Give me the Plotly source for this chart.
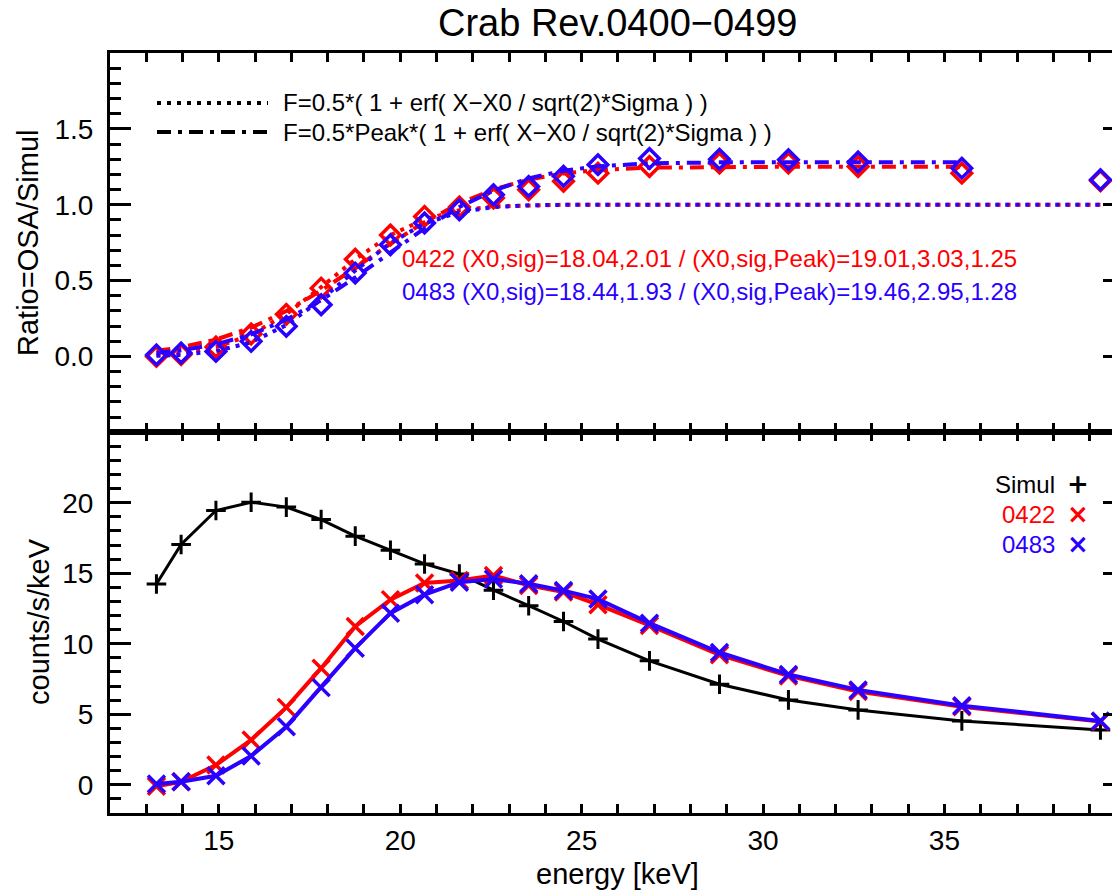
import math
import plotly.graph_objects as go

# ---------------- data ----------------
energy = [13.28, 13.96, 14.92, 15.89, 16.86, 17.82, 18.76, 19.73, 20.67, 21.63,
          22.57, 23.54, 24.50, 25.45, 26.87, 28.80, 30.70, 32.62, 35.48, 39.30]

simul = [14.24, 17.04, 19.45, 20.04, 19.69, 18.81, 17.63, 16.63, 15.66, 14.95,
         13.80, 12.70, 11.58, 10.33, 8.79, 7.13, 6.02, 5.31, 4.53, 3.89]

counts_0422 = [-0.10, 0.21, 1.40, 3.18, 5.49, 8.27, 11.23, 13.13, 14.31, 14.49,
               14.84, 14.14, 13.67, 12.77, 11.30, 9.22, 7.72, 6.61, 5.54, 4.48]

counts_0483 = [0.05, 0.21, 0.64, 2.04, 4.12, 6.89, 9.69, 12.17, 13.48, 14.37,
               14.60, 14.25, 13.77, 13.17, 11.46, 9.38, 7.82, 6.73, 5.61, 4.53]

ratio_0422 = [0.00, 0.013, 0.062, 0.148, 0.277, 0.450, 0.640, 0.800, 0.923, 0.985,
              1.044, 1.099, 1.154, 1.208, 1.252, 1.274, 1.274, 1.252, 1.208, 1.158]

ratio_0483 = [0.01, 0.022, 0.033, 0.099, 0.198, 0.341, 0.549, 0.736, 0.879, 0.967,
              1.066, 1.120, 1.187, 1.264, 1.305, 1.300, 1.297, 1.281, 1.241, 1.165]

# fit parameters printed on the chart
erf_0422 = (18.04, 2.01)          # (X0, sig)
erf_0483 = (18.44, 1.93)
peak_0422 = (19.01, 3.03, 1.25)   # (X0, sig, Peak)
peak_0483 = (19.46, 2.95, 1.28)
peak_fit_last = 35.48             # peak fits drawn up to this energy

y_ticks_ratio = [0.0, 0.5, 1.0, 1.5]
y_ticks_ratio_text = ["0.0", "0.5", "1.0", "1.5"]
y_ticks_counts = [0, 5, 10, 15, 20]
x_ticks = [15, 20, 25, 30, 35]

# ---------------- styling ----------------
RED = "#FF0000"
BLUE = "#2A00FF"
FONT = "Liberation Sans"
W, H = 1112, 895
ML, MR, MT, MB = 110, 0, 53, 82
PX_PER_KEV = 36.28
X_RANGE = [12, 12 + (W - ML - MR) / PX_PER_KEV]
SPLIT = 0.501

def model(x, x0, sig, peak=1.0):
    return 0.5 * peak * (1.0 + math.erf((x - x0) / (math.sqrt(2.0) * sig)))

fig = go.Figure()

# ---------- top panel: ratios and fits ----------
for col, rat, ef, pf in [(RED, ratio_0422, erf_0422, peak_0422),
                         (BLUE, ratio_0483, erf_0483, peak_0483)]:
    fig.add_trace(go.Scatter(
        x=energy, y=[model(e, *ef) for e in energy], mode="lines",
        line=dict(color=col, width=4, dash="4px,6px"),
        xaxis="x2", yaxis="y2", showlegend=False, hoverinfo="skip"))
    e_pk = [e for e in energy if e <= peak_fit_last]
    fig.add_trace(go.Scatter(
        x=e_pk, y=[model(e, *pf) for e in e_pk], mode="lines",
        line=dict(color=col, width=4, dash="14px,7px,4px,7px"),
        xaxis="x2", yaxis="y2", showlegend=False, hoverinfo="skip"))
    fig.add_trace(go.Scatter(
        x=energy, y=rat, mode="markers",
        marker=dict(symbol="diamond-open", size=15, color=col,
                    line=dict(width=3.5, color=col)),
        xaxis="x2", yaxis="y2", showlegend=False))

# ---------- bottom panel: counts ----------
fig.add_trace(go.Scatter(
    x=energy, y=simul, mode="lines+markers",
    line=dict(color="black", width=3),
    marker=dict(symbol="cross-thin", size=14, color="black",
                line=dict(width=3, color="black")),
    xaxis="x", yaxis="y", showlegend=False))
for col, cnt in [(RED, counts_0422), (BLUE, counts_0483)]:
    fig.add_trace(go.Scatter(
        x=energy, y=cnt, mode="lines+markers",
        line=dict(color=col, width=4),
        marker=dict(symbol="x-thin", size=17, color=col,
                    line=dict(width=3.5, color=col)),
        xaxis="x", yaxis="y", showlegend=False))

# empty traces for right-side tick axes
fig.add_trace(go.Scatter(x=[], y=[], xaxis="x", yaxis="y3", showlegend=False))
fig.add_trace(go.Scatter(x=[], y=[], xaxis="x2", yaxis="y4", showlegend=False))

tickfont = dict(family=FONT, size=28, color="black")
xcommon = dict(range=X_RANGE, tickvals=x_ticks, ticks="inside", ticklen=9,
               tickwidth=3, tickcolor="black", showline=True, linewidth=3,
               linecolor="black", mirror="allticks", showgrid=False,
               zeroline=False,
               minor=dict(tickmode="linear", tick0=0, dtick=1, ticks="inside",
                          ticklen=4, tickwidth=3, tickcolor="black",
                          showgrid=False))
ycommon = dict(ticks="inside", ticklen=21, tickwidth=3, tickcolor="black",
               showline=True, linewidth=3, linecolor="black", mirror=False,
               showgrid=False, zeroline=False, tickfont=tickfont,
               ticklabelstandoff=8)

fig.update_layout(
    width=W, height=H,
    margin=dict(l=ML, r=MR, t=MT, b=MB),
    paper_bgcolor="white", plot_bgcolor="white",
    font=dict(family=FONT, color="black"),
    xaxis=dict(**xcommon, anchor="y", domain=[0, 1], tickfont=tickfont,
               ticklabelstandoff=0),
    xaxis2=dict(**xcommon, anchor="y2", domain=[0, 1], matches="x",
                showticklabels=False),
    yaxis=dict(**ycommon, anchor="x", domain=[0, SPLIT], range=[-2, 25],
               tickvals=y_ticks_counts,
               minor=dict(tickmode="linear", tick0=0, dtick=1, ticks="inside",
                          ticklen=11, tickwidth=3, tickcolor="black")),
    yaxis2=dict(**ycommon, anchor="x2", domain=[SPLIT, 1], range=[-0.5, 2.0],
                tickvals=y_ticks_ratio, ticktext=y_ticks_ratio_text,
                minor=dict(tickmode="linear", tick0=0, dtick=0.1,
                           ticks="inside", ticklen=11, tickwidth=3,
                           tickcolor="black")),
    yaxis3=dict(overlaying="y", side="right", anchor="x", range=[-2, 25],
                tickvals=y_ticks_counts, ticks="inside", ticklen=9,
                tickwidth=3, tickcolor="black", showline=False,
                showticklabels=False, showgrid=False, zeroline=False),
    yaxis4=dict(overlaying="y2", side="right", anchor="x2", range=[-0.5, 2.0],
                tickvals=y_ticks_ratio, ticks="inside", ticklen=9,
                tickwidth=3, tickcolor="black", showline=False,
                showticklabels=False, showgrid=False, zeroline=False),
)

plot_h = H - MT - MB
plot_w = W - ML - MR

def px(xp):
    return (xp - ML) / plot_w

def py(yp):
    return 1 - (yp - MT) / plot_h

ann = []
ann.append(dict(text="Crab Rev.0400\u22120499", x=px(618), y=py(23),
                font=dict(size=38, family=FONT, color="black")))
ann.append(dict(text="energy [keV]", x=px(617), y=py(874),
                font=dict(size=29, family=FONT, color="black")))
ann.append(dict(text="Ratio=OSA/Simul", x=px(28), y=py(243), textangle=-90,
                font=dict(size=29, family=FONT, color="black")))
ann.append(dict(text="counts/s/keV", x=px(39), y=py(622), textangle=-90,
                font=dict(size=29, family=FONT, color="black")))
ann.append(dict(text="F=0.5*( 1 + erf( X\u2212X0 / sqrt(2)*Sigma ) )",
                x=px(281), y=py(103), xanchor="left",
                font=dict(size=24, family=FONT, color="black")))
ann.append(dict(text="F=0.5*Peak*( 1 + erf( X\u2212X0 / sqrt(2)*Sigma ) )",
                x=px(281), y=py(132), xanchor="left",
                font=dict(size=24, family=FONT, color="black")))
ann.append(dict(
    text="0422 (X0,sig)=%.2f,%.2f / (X0,sig,Peak)=%.2f,%.2f,%.2f"
         % (erf_0422 + peak_0422),
    x=px(400), y=py(258), xanchor="left",
    font=dict(size=24, family=FONT, color=RED)))
ann.append(dict(
    text="0483 (X0,sig)=%.2f,%.2f / (X0,sig,Peak)=%.2f,%.2f,%.2f"
         % (erf_0483 + peak_0483),
    x=px(400), y=py(291), xanchor="left",
    font=dict(size=24, family=FONT, color=BLUE)))
for label, col, glyph, yy in [("Simul", "black", "+", 484),
                              ("0422", RED, "\u00d7", 514),
                              ("0483", BLUE, "\u00d7", 544)]:
    ann.append(dict(text=label, x=px(1057), y=py(yy), xanchor="right",
                    font=dict(size=24, family=FONT, color=col)))
    ann.append(dict(text="<b>%s</b>" % glyph, x=px(1078), y=py(yy),
                    font=dict(size=26, family="DejaVu Sans", color=col)))

for a in ann:
    a.update(xref="paper", yref="paper", showarrow=False)
    a.setdefault("xanchor", "center")
    a.setdefault("yanchor", "middle")
fig.update_layout(annotations=ann)

# legend line samples (top panel)
fig.add_shape(type="line", xref="paper", yref="paper",
              x0=px(157), x1=px(268), y0=py(103), y1=py(103),
              line=dict(color="black", width=4, dash="4px,6px"))
fig.add_shape(type="line", xref="paper", yref="paper",
              x0=px(157), x1=px(268), y0=py(132), y1=py(132),
              line=dict(color="black", width=4, dash="14px,7px,4px,7px"))

fig.write_html("out.html")
